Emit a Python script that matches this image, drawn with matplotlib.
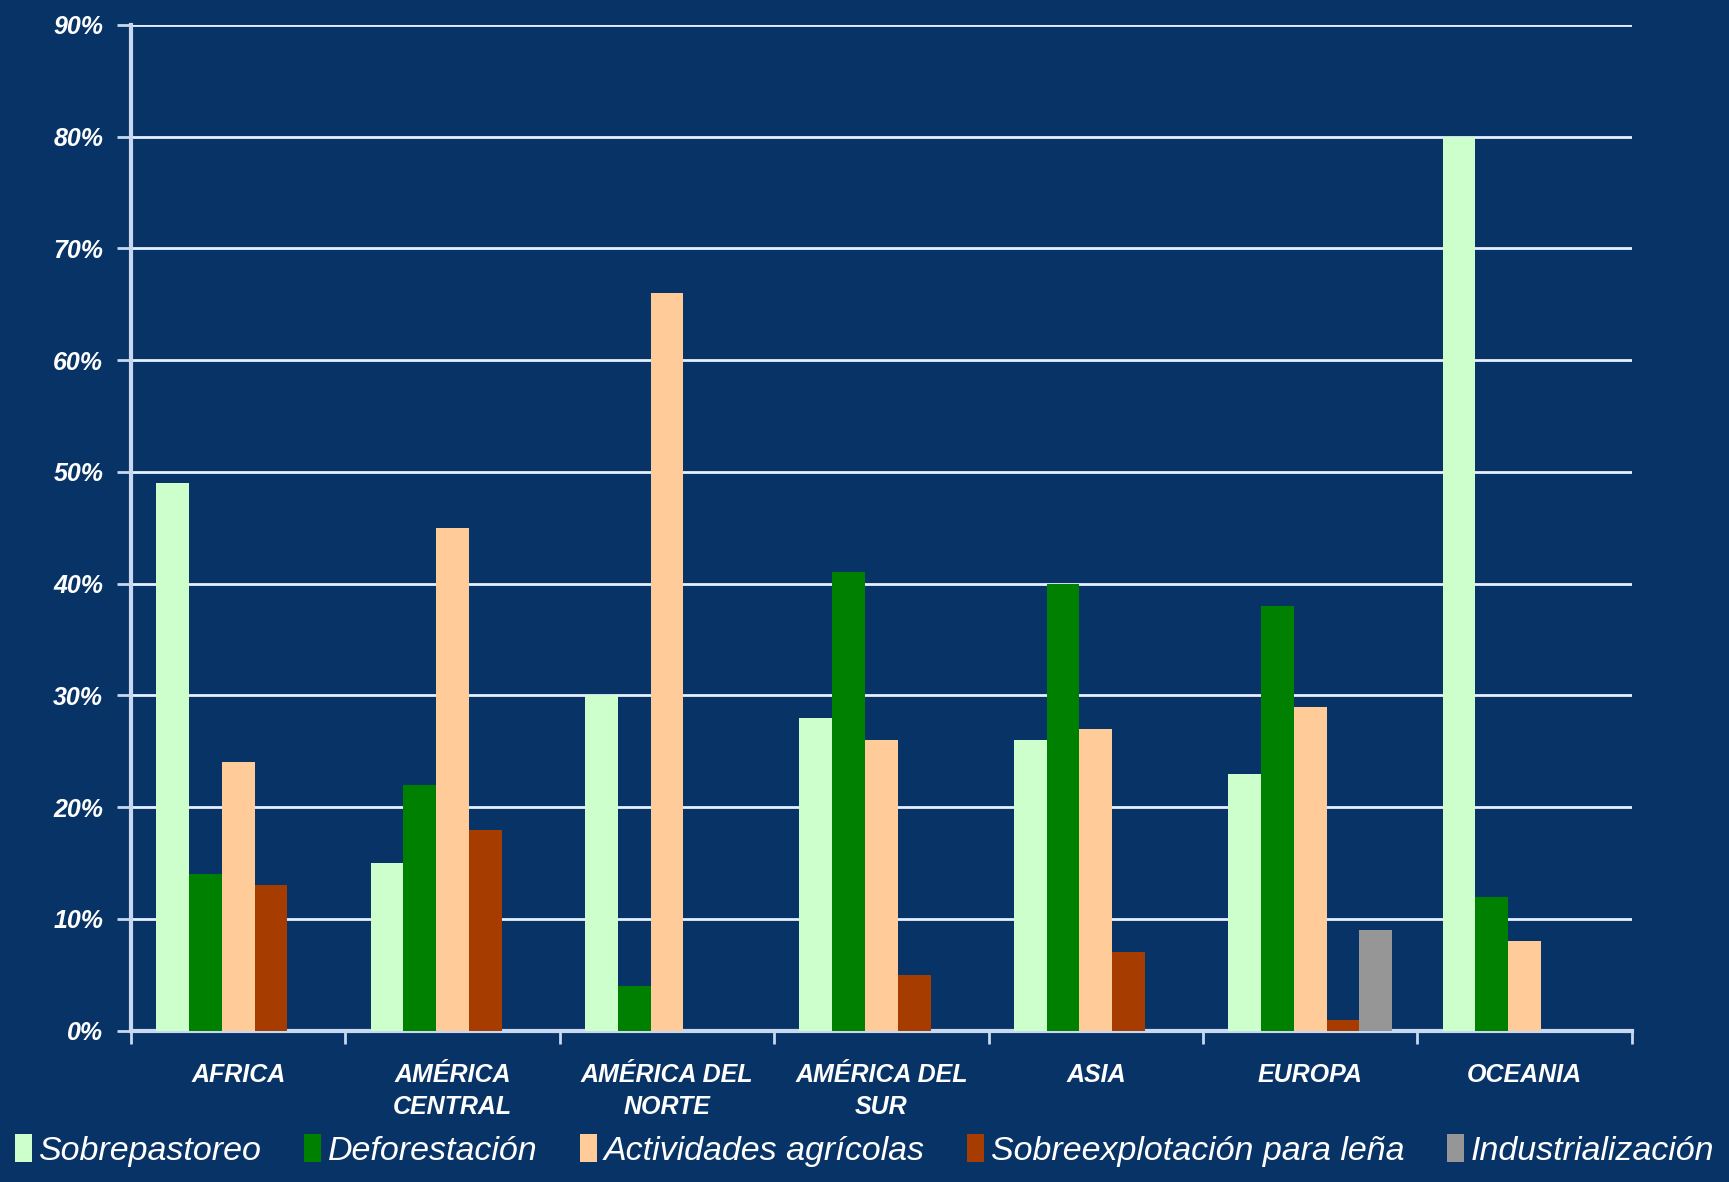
import numpy as np
import matplotlib
matplotlib.use("Agg")
import matplotlib.pyplot as plt

# data (percent)
regions = ["AFRICA", "AMÉRICA\nCENTRAL", "AMÉRICA DEL\nNORTE", "AMÉRICA DEL\nSUR",
           "ASIA", "EUROPA", "OCEANIA"]
series = ["Sobrepastoreo", "Deforestación", "Actividades agrícolas",
          "Sobreexplotación para leña", "Industrialización"]
sobrepastoreo = [49, 15, 30, 28, 26, 23, 80]
deforestacion = [14, 22, 4, 41, 40, 38, 12]
agricolas = [24, 45, 66, 26, 27, 29, 8]
lena = [13, 18, 0, 5, 7, 1, 0]
industrializacion = [0, 0, 0, 0, 0, 9, 0]
values = [sobrepastoreo, deforestacion, agricolas, lena, industrializacion]
colors = ["#ccffcc", "#008000", "#ffcc99", "#a63c00", "#969696"]

bg = "#083366"
line_col = "#c8d8f0"

plt.rcParams["font.family"] = ["Liberation Sans", "DejaVu Sans"]

fig = plt.figure(figsize=(17.29, 11.82), dpi=100, facecolor=bg)
ax = fig.add_axes([0.0758, 0.128, 0.868, 0.851], facecolor=bg)

x = np.arange(len(regions))
w = 0.153
for i, (vals, col, name) in enumerate(zip(values, colors, series)):
    ax.bar(x + (i - 2) * w, vals, width=w, color=col, label=name, zorder=3)

ax.set_xlim(-0.5, 6.5)
ax.set_ylim(0, 90)
ax.set_yticks(np.arange(0, 91, 10))
ax.set_yticklabels([f"{v}%" for v in range(0, 91, 10)])
ax.yaxis.grid(True, color="#e8f0ff", linewidth=2, zorder=1)
ax.set_axisbelow(True)

# category labels centred, tick marks on category boundaries
ax.set_xticks(x)
ax.set_xticklabels(regions)
ax.tick_params(axis="x", which="major", length=0, pad=23)
ax.set_xticks(np.arange(-0.5, 7, 1), minor=True)
ax.tick_params(axis="x", which="minor", length=9, width=2, color=line_col, direction="out")
ax.tick_params(axis="y", length=10, width=2, color=line_col, pad=10)

for lbl in ax.get_xticklabels() + ax.get_yticklabels():
    lbl.set_color("white")
    lbl.set_fontweight("bold")
    lbl.set_fontstyle("italic")
    lbl.set_fontsize(18)
    lbl.set_linespacing(1.45)

for side in ["top", "right"]:
    ax.spines[side].set_visible(False)
for side in ["left", "bottom"]:
    ax.spines[side].set_color(line_col)
    ax.spines[side].set_linewidth(3)

leg = fig.legend(loc="center", bbox_to_anchor=(0.5, 0.027), ncol=5, frameon=False,
                 handlelength=0.5, handleheight=0.9, handletextpad=0.2,
                 columnspacing=1.25, prop={"style": "italic", "size": 24.5})
for t in leg.get_texts():
    t.set_color("white")

fig.savefig("out.png", dpi=100, facecolor=bg)
